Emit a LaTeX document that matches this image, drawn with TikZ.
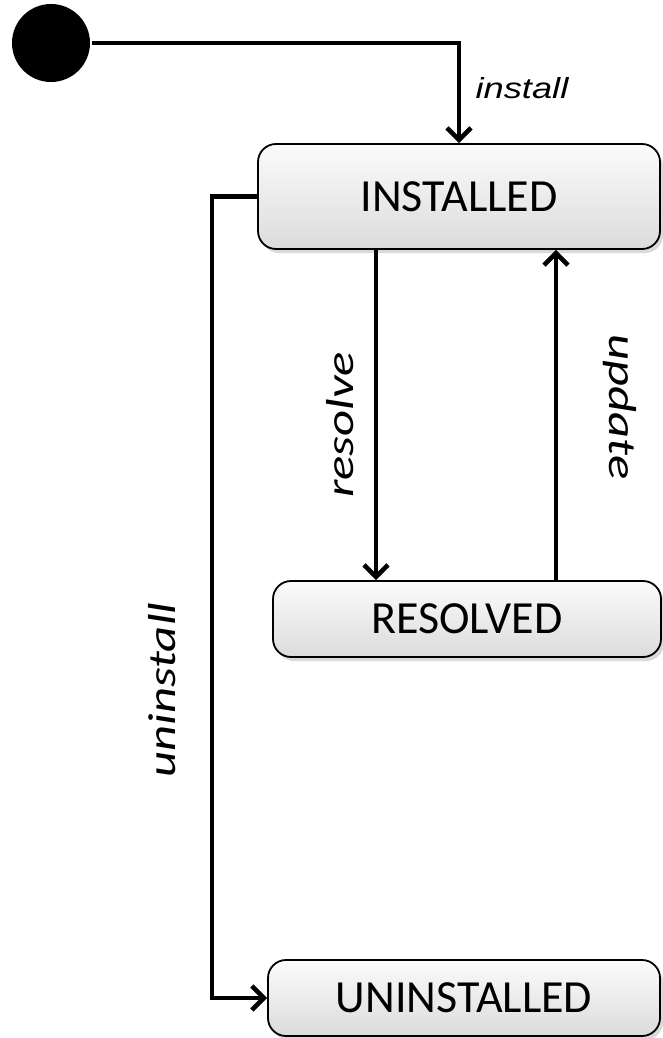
\documentclass[tikz,border=0pt]{standalone}
\usepackage{fontspec}
\setmainfont{Carlito}
\newfontfamily\arialfont{Liberation Sans}
\usetikzlibrary{arrows.meta,shadows}
\begin{document}
\begin{tikzpicture}[x=1pt, y=1pt, >={Straight Barb[length=12pt,width=24pt]}, line width=4.6pt]
        \tikzset{state/.style={draw, line width=1.8pt, rounded corners=18pt, top color=gray!3, bottom color=gray!28, drop shadow={shadow xshift=3pt, shadow yshift=-4pt, opacity=0.3}, inner sep=0pt, font=\fontsize{46}{52}\selectfont},
                 lbl/.style={inner sep=0pt, font=\fontsize{39}{44}\selectfont\itshape}}
        \useasboundingbox (0,0) rectangle (662,-1038);
        \node[circle, fill=black, minimum size=78pt, inner sep=0pt] (init) at (51,-43) {};
        \node[state, minimum width=402pt, minimum height=105pt] (installed) at (459,-196.5) {INSTALLED};
        \node[state, minimum width=388pt, minimum height=76pt] (resolved) at (467,-619) {RESOLVED};
        \node[state, minimum width=392pt, minimum height=76pt] (uninstalled) at (464,-998) {UNINSTALLED};
        \coordinate (bend) at (212,-196.5);
        \draw[->] (init.east) -| (installed.north);
        \draw[->] ([xshift=-83pt]installed.south) -- ([xshift=-83pt]installed.south |- resolved.north);
        \draw[->] ([xshift=97pt]installed.south |- resolved.north) -- ([xshift=97pt]installed.south);
        \draw[->] (installed.west) -- (bend) |- (uninstalled.west);
        \node[lbl, font=\fontsize{29}{32}\selectfont\arialfont\itshape] (linstall) at (522,-88) {\scalebox{1.25}[1]{install}};
        \node[lbl, rotate=90] (lresolve) at (340,-425) {\scalebox{1.3}[1]{resolve}};
        \node[lbl, rotate=-90] (lupdate) at (620,-407) {\scalebox{1.3}[1]{update}};
        \node[lbl, rotate=90] (luninstall) at (162,-690) {\scalebox{1.3}[1]{uninstall}};
    \end{tikzpicture}
\end{document}
